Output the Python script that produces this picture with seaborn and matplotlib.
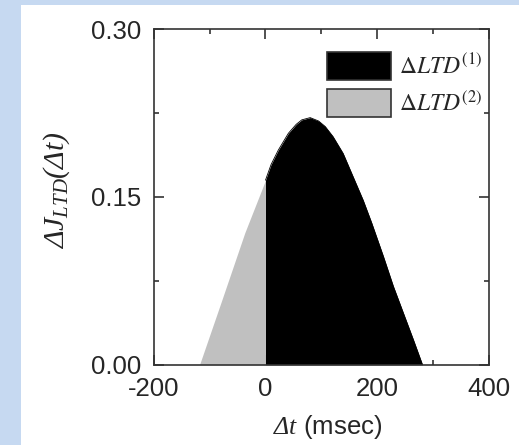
import numpy as np
import pandas as pd
import seaborn as sns
import matplotlib.pyplot as plt
from matplotlib.patches import Rectangle, Patch
from matplotlib.ticker import MultipleLocator

# Curve (msec, weight change)
dt = [-118, -78, -37, 0, 10, 23, 41, 55, 65, 80, 95, 107, 121, 139, 157, 175, 190, 211, 229,
      247, 265, 281]
dj = [0.0, 0.058, 0.118, 0.165, 0.179, 0.192, 0.207, 0.215, 0.219, 0.221, 0.218, 0.213, 0.204,
      0.189, 0.168, 0.147, 0.127, 0.097, 0.070, 0.046, 0.022, 0.0]
legend_labels = [r"$\Delta LTD^{(1)}$", r"$\Delta LTD^{(2)}$"]
fill_colors = ["black", "#c0c0c0"]

df = pd.DataFrame({"dt": dt, "dj": dj})
pos = df[df["dt"] >= 0]
neg = df[df["dt"] <= 0]

sns.set_style("ticks")
plt.rcParams["font.family"] = ["Liberation Sans", "DejaVu Sans"]
plt.rcParams["mathtext.fontset"] = "stix"
plt.rcParams["axes.unicode_minus"] = False
# italic serif set for the axis labels (slanted Delta)
plt.rcParams["mathtext.rm"] = "Liberation Serif:italic"
plt.rcParams["mathtext.it"] = "Liberation Serif:italic"
plt.rcParams["mathtext.bf"] = "Liberation Serif:bold"

fig = plt.figure(figsize=(5.19, 4.45), dpi=100)
fig.patch.set_facecolor("#c6d9f1")
fig.patches.append(Rectangle((21 / 519, 0), 1, 1 - 5 / 445, transform=fig.transFigure,
                             facecolor="white", edgecolor="none", zorder=-10))

ax = fig.add_axes([153.7 / 519, 1 - 364.7 / 445, 335.3 / 519, 335.4 / 445])

# black part (dt >= 0) and grey part (dt <= 0)
ax.fill_between(pos["dt"], 0, pos["dj"], color=fill_colors[0], lw=0)
ax.fill_between(neg["dt"], 0, neg["dj"], color=fill_colors[1], lw=0)
sns.lineplot(data=pos, x="dt", y="dj", ax=ax, color="black", lw=0.6)

ax.set_xlim(-200, 400)
ax.set_ylim(0, 0.30)
ax.set_xticks([-200, 0, 200, 400])
ax.set_yticks([0.0, 0.15, 0.30])
ax.set_yticklabels(["0.00", "0.15", "0.30"])
ax.xaxis.set_minor_locator(MultipleLocator(100))
ax.yaxis.set_minor_locator(MultipleLocator(0.075))
ax.tick_params(which="both", direction="in", top=True, right=True, labelsize=18.5,
               color="#333333", width=1.2)
ax.tick_params(which="major", length=7.5, pad=9)
ax.tick_params(which="minor", length=3.3)
for s in ax.spines.values():
    s.set_color("#333333")
    s.set_linewidth(1.2)
    s.set_zorder(5)

ax.set_xlabel(r"$\Delta t$ (msec)", fontsize=18.5, math_fontfamily="custom", va="center")
ax.set_ylabel(r"$\Delta J_{LTD}(\Delta t)$", fontsize=21.5, math_fontfamily="custom", va="center")
ax.xaxis.set_label_coords(0.518, -0.186)
ax.yaxis.set_label_coords(-0.29, 0.52)

handles = [Patch(facecolor=fill_colors[0], edgecolor="#333333", lw=1.2),
           Patch(facecolor=fill_colors[1], edgecolor="#333333", lw=1.2)]
ax.legend(handles, legend_labels, loc="upper left", bbox_to_anchor=(0.517, 0.933),
          frameon=False, fontsize=17, handlelength=2.7, handleheight=1.45,
          labelspacing=0.4, borderpad=0, handletextpad=0.35, borderaxespad=0)

fig.savefig("out.png", dpi=100, facecolor=fig.get_facecolor())
